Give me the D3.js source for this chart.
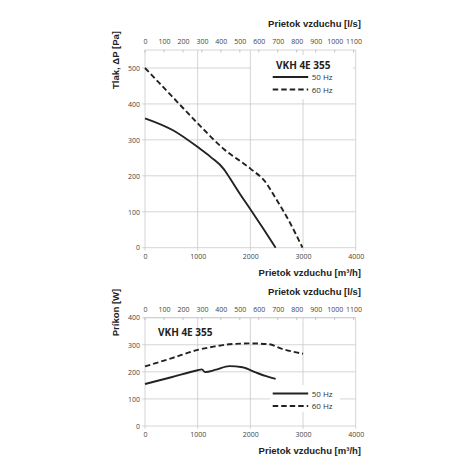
<!DOCTYPE html>
<html>
<head>
<meta charset="utf-8">
<title>VKH 4E 355</title>
<script src="https://cdnjs.cloudflare.com/ajax/libs/d3/7.8.5/d3.min.js"></script>
<style>
html, body { margin:0; padding:0; background:#fff; }
svg { display:block; }
.tick text { font-family:"Open Sans", sans-serif; font-size:7px; }
.title { font-family:"Liberation Sans", Arial, sans-serif; font-weight:bold; font-size:9.5px; fill:#222; }
.leg { font-family:"Open Sans", sans-serif; font-size:8px; fill:#333; }
.model { font-family:"Open Sans", sans-serif; font-weight:700; font-size:10px; fill:#222; }
</style>
</head>
<body>
<svg id="chart" width="470" height="470"></svg>
<script>
// pressure curves [m3/h, Pa]
var press50 = [[0,360],[540,326],[1000,280],[1250,252],[1500,218],[1560,205],[1800,150],[2000,107],[2250,52],[2480,0]];
var press60 = [[0,500],[500,423],[1000,346],[1500,274],[2000,220],[2300,180],[2450,145],[2750,70],[2990,0]];
// power curves [m3/h, W]
var power50 = [[0,155],[500,180],[1000,206],[1080,209],[1140,199],[1350,208],[1600,221],[1850,217],[2100,198],[2300,184],[2480,174]];
var power60 = [[0,220],[500,250],[1000,281],[1300,293],[1600,302],[2000,305],[2350,302],[2600,285],[3000,267]];

var flowTicks = [0,1000,2000,3000,4000];
var lsTicks = d3.range(0,1200,100);
var pressTicks = [0,100,200,300,400,500];
var powerTicks = [0,100,200,300,400];
var series = ["50 Hz","60 Hz"];

var svg = d3.select("#chart");
var grid = "#c9c9c9";
var fmt = d3.format("d");

var x = d3.scaleLinear().domain([0,4000]).range([145,355.7]);
var xls = d3.scaleLinear().domain([0,4000/3.6]).range([145,355.7]);

function panel(y, yTicks, s50, s60, yLabel, labelY, legBox, legX, legY, modelPos){
  var top = y.range()[1], bot = y.range()[0];
  var g = svg.append("g");

  // horizontal grid
  g.selectAll(".hg").data(yTicks).enter().append("line")
    .attr("x1",x(0)-3).attr("x2",x(4000))
    .attr("y1",function(d){return y(d);}).attr("y2",function(d){return y(d);})
    .attr("stroke",grid).attr("stroke-width",0.8);
  // vertical grid
  g.selectAll(".vg").data(flowTicks).enter().append("line")
    .attr("x1",function(d){return x(d);}).attr("x2",function(d){return x(d);})
    .attr("y1",top).attr("y2",bot+3)
    .attr("stroke",grid).attr("stroke-width",0.8);
  // top frame
  g.append("line").attr("x1",x(0)).attr("x2",x(4000)).attr("y1",top).attr("y2",top)
    .attr("stroke",grid).attr("stroke-width",0.8);

  // axes (labels only, lines drawn above)
  var ya = g.append("g").attr("transform","translate("+(x(0)-5)+",0)")
    .call(d3.axisLeft(y).tickValues(yTicks).tickFormat(fmt).tickSize(0).tickPadding(0));
  var xa = g.append("g").attr("transform","translate(0,"+(bot+4)+")")
    .call(d3.axisBottom(x).tickValues(flowTicks).tickFormat(fmt).tickSize(0).tickPadding(2));
  var ta = g.append("g").attr("transform","translate(0,"+(top-4)+")")
    .call(d3.axisTop(xls).tickValues(lsTicks).tickFormat(fmt).tickSize(0).tickPadding(2));
  [ya,xa,ta].forEach(function(a){
    a.select(".domain").remove();
    a.selectAll("text").attr("fill","#444");
  });

  // small ticks under the top frame
  g.selectAll(".tt").data(lsTicks).enter().append("line")
    .attr("x1",function(d){return xls(d);}).attr("x2",function(d){return xls(d);})
    .attr("y1",top).attr("y2",top+2.5)
    .attr("stroke","#aaa").attr("stroke-width",0.7);

  // titles
  g.append("text").attr("class","title").attr("text-anchor","end")
    .attr("x",361).attr("y",top-23).text("Prietok vzduchu [l/s]");
  g.append("text").attr("class","title").attr("text-anchor","end")
    .attr("x",361).attr("y",bot+28).text("Prietok vzduchu [m³/h]");
  g.append("text").attr("class","title").attr("text-anchor","middle")
    .attr("transform","translate(119,"+labelY+") rotate(-90)").text(yLabel);

  // legend background
  if (legBox) {
    g.append("rect").attr("x",legBox[0]).attr("y",legBox[1])
      .attr("width",legBox[2]).attr("height",legBox[3]).attr("fill","#fff");
  }

  var line = d3.line().x(function(d){return x(d[0]);}).y(function(d){return y(d[1]);})
    .curve(d3.curveMonotoneX);
  g.append("path").datum(s50).attr("d",line).attr("fill","none")
    .attr("stroke","#222").attr("stroke-width",1.9);
  g.append("path").datum(s60).attr("d",line).attr("fill","none")
    .attr("stroke","#222").attr("stroke-width",1.9).attr("stroke-dasharray","5.5,3");

  // legend
  g.append("text").attr("class","model").attr("x",modelPos[0]).attr("y",modelPos[1]).text("VKH 4E 355");
  series.forEach(function(s,i){
    var ly = legY + i*12.5;
    g.append("line").attr("x1",legX).attr("x2",legX+35.5).attr("y1",ly).attr("y2",ly)
      .attr("stroke","#222").attr("stroke-width",1.9)
      .attr("stroke-dasharray", i ? "5.5,3" : null);
    g.append("text").attr("class","leg").attr("x",legX+39).attr("y",ly+3).text(s);
  });
}

var yP = d3.scaleLinear().domain([0,550]).range([247.7,50]);
var yW = d3.scaleLinear().domain([0,400]).range([426,317.7]);

panel(yP, pressTicks, press50, press60, "Tlak, \u0394P [Pa]", 60,
      [251,55,102,44], 272.7, 77, [276,69]);
panel(yW, powerTicks, power50, power60, "Príkon [W]", 312.5,
      [270,385,70,27], 272.7, 393.5, [158,336]);
</script>
</body>
</html>
